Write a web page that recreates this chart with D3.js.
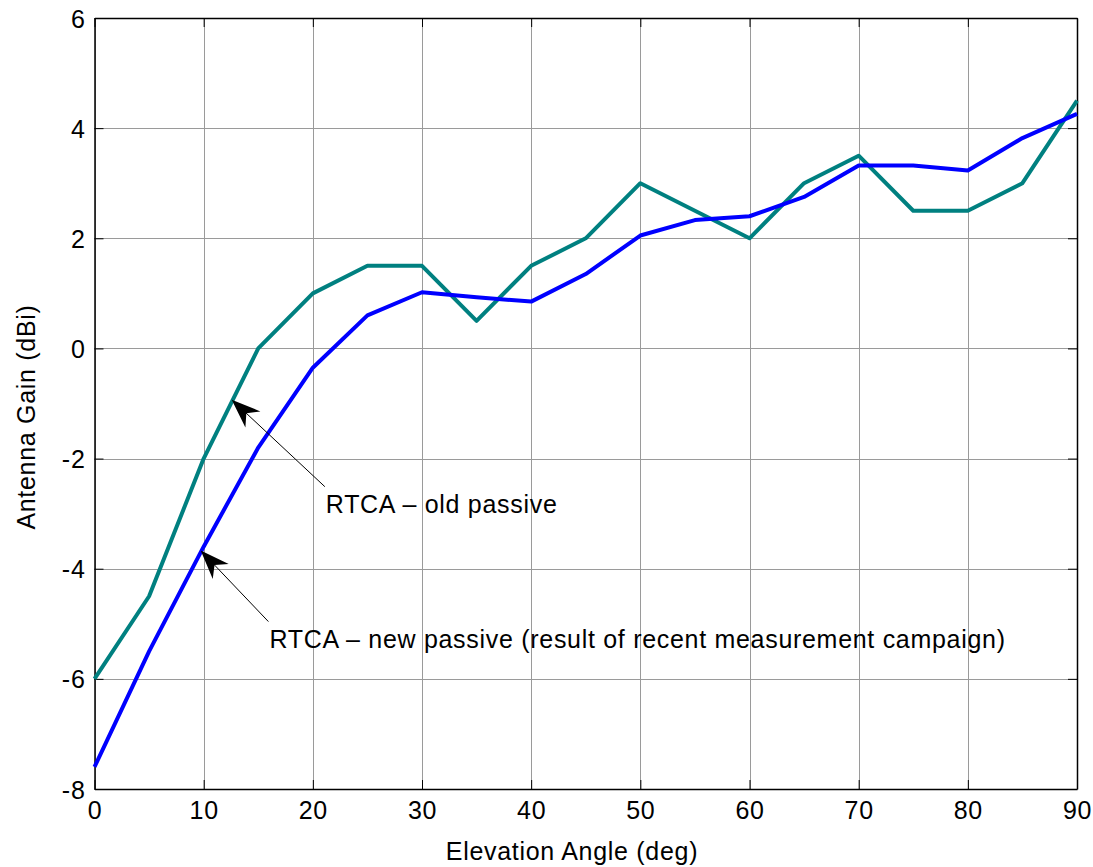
<!DOCTYPE html>
<html>
<head>
<meta charset="utf-8">
<script src="https://cdn.jsdelivr.net/npm/d3@7"></script>
<style>
  body { margin: 0; background: #fff; }
  svg { display: block; font-family: "Liberation Sans", Arial, sans-serif; }
  text { letter-spacing: 0.7px; }
</style>
</head>
<body>
<svg width="1093" height="867"></svg>
<script>
// --- data ---
const angles = [0, 5, 10, 15, 20, 25, 30, 35, 40, 45, 50, 55, 60, 65, 70, 75, 80, 85, 90];
const oldPassive = [-6, -4.5, -2, 0, 1, 1.5, 1.5, 0.5, 1.5, 2, 3, 2.5, 2, 3, 3.5, 2.5, 2.5, 3, 4.5];
const newPassive = [-7.6, -5.5, -3.6, -1.8, -0.35, 0.6, 1.02, 0.93, 0.85, 1.35, 2.05, 2.33, 2.4, 2.75, 3.32, 3.32, 3.23, 3.82, 4.26];
const xTicks = [0, 10, 20, 30, 40, 50, 60, 70, 80, 90];
const yTicks = [-8, -6, -4, -2, 0, 2, 4, 6];

// annotations: text, arrow tip (data coords), arrow tail (data coords)
const noteLabels = ["RTCA \u2013 old passive", "RTCA \u2013 new passive (result of recent measurement campaign)"];
const noteTips = [[12.57, -0.93], [9.73, -3.67]];
const noteTails = [[21.1, -2.51], [15.93, -4.96]];

// --- layout ---
const svg = d3.select("svg");
const mLeft = 94.5, mRight = 1077, mTop = 18, mBottom = 789;
const fontSize = 25;

const x = d3.scaleLinear().domain([0, 90]).range([mLeft, mRight]);
const y = d3.scaleLinear().domain([-8, 6]).range([mBottom, mTop]);

// grid
const grid = svg.append("g").attr("stroke", "#9a9a9a").attr("stroke-width", 1);
xTicks.forEach(t => {
    grid.append("line").attr("x1", Math.round(x(t)) + 0.5).attr("x2", Math.round(x(t)) + 0.5)
        .attr("y1", mTop).attr("y2", mBottom);
});
yTicks.forEach(t => {
    grid.append("line").attr("y1", Math.round(y(t)) + 0.5).attr("y2", Math.round(y(t)) + 0.5)
        .attr("x1", mLeft).attr("x2", mRight);
});

// axes with inward ticks on all sides
const tl = 9;
const fmt = d => String(d); // plain hyphen for negatives
const axB = svg.append("g").attr("transform", `translate(0,${mBottom})`)
    .call(d3.axisBottom(x).tickValues(xTicks).tickFormat(fmt).tickSize(-tl).tickPadding(12).tickSizeOuter(0));
const axT = svg.append("g").attr("transform", `translate(0,${mTop})`)
    .call(d3.axisTop(x).tickValues(xTicks).tickSize(-tl).tickFormat("").tickSizeOuter(0));
const axL = svg.append("g").attr("transform", `translate(${mLeft},0)`)
    .call(d3.axisLeft(y).tickValues(yTicks).tickFormat(fmt).tickSize(-tl).tickPadding(9).tickSizeOuter(0));
const axR = svg.append("g").attr("transform", `translate(${mRight},0)`)
    .call(d3.axisRight(y).tickValues(yTicks).tickSize(-tl).tickFormat("").tickSizeOuter(0));

[axB, axT, axL, axR].forEach(a => {
    a.select(".domain").attr("stroke", "#000").attr("stroke-width", 1.5);
    a.selectAll(".tick line").attr("stroke", "#000").attr("stroke-width", 1);
    a.selectAll(".tick text").attr("fill", "#000").style("font-size", fontSize + "px")
        .style("font-family", "'Liberation Sans', Arial, sans-serif");
});
axB.selectAll(".tick text").attr("dy", "0.71em");
axL.selectAll(".tick text").attr("dy", "0.36em");

// series
const line = d3.line().x((d, i) => x(angles[i])).y(d => y(d));
svg.append("path").datum(oldPassive).attr("d", line)
    .attr("fill", "none").attr("stroke", "#008080").attr("stroke-width", 4).attr("stroke-linejoin", "round");
svg.append("path").datum(newPassive).attr("d", line)
    .attr("fill", "none").attr("stroke", "#0000ff").attr("stroke-width", 4).attr("stroke-linejoin", "round");

// annotations
noteLabels.forEach((label, i) => {
    const tx = x(noteTips[i][0]), ty = y(noteTips[i][1]);
    const bx = x(noteTails[i][0]), by = y(noteTails[i][1]);
    const len = Math.hypot(bx - tx, by - ty);
    const ux = (bx - tx) / len, uy = (by - ty) / len;
    const px = -uy, py = ux;
    svg.append("line").attr("x1", bx).attr("y1", by).attr("x2", tx + ux * 18).attr("y2", ty + uy * 18)
        .attr("stroke", "#000").attr("stroke-width", 1);
    const head = [
        [tx, ty],
        [tx + ux * 29 + px * 11, ty + uy * 29 + py * 11],
        [tx + ux * 20, ty + uy * 20],
        [tx + ux * 29 - px * 11, ty + uy * 29 - py * 11]
    ];
    svg.append("path").attr("d", "M" + head.join("L") + "Z").attr("fill", "#000");
    svg.append("text").attr("x", bx + 1).attr("y", by + 26)
        .style("font-size", fontSize + "px").attr("fill", "#000").text(label);
});

// axis labels
svg.append("text").attr("x", 572).attr("y", 860).attr("text-anchor", "middle")
    .style("font-size", fontSize + "px").text("Elevation Angle (deg)");
svg.append("text").attr("transform", "translate(35,417) rotate(-90)").attr("text-anchor", "middle")
    .style("font-size", fontSize + "px").text("Antenna Gain (dBi)");
</script>
</body>
</html>
